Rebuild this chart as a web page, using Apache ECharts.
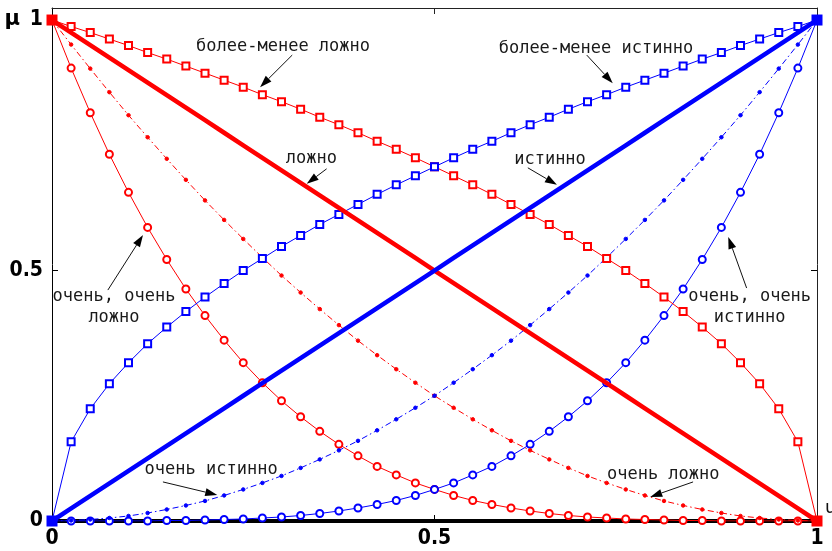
<!DOCTYPE html>
<html>
<head>
<meta charset="utf-8">
<script src="https://cdn.jsdelivr.net/npm/echarts@6/dist/echarts.min.js"></script>
<style>
  html, body { margin: 0; padding: 0; background: #fff; }
  #chart { width: 832px; height: 551px; }
</style>
</head>
<body>
<div id="chart"></div>
<script>
// Membership functions of the linguistic term "истинно" and its modifiers,
// sampled on u = 0 … 1 with step 0.025.
const u = [0, 0.025, 0.05, 0.075, 0.1, 0.125, 0.15, 0.175, 0.2, 0.225,
  0.25, 0.275, 0.3, 0.325, 0.35, 0.375, 0.4, 0.425, 0.45, 0.475,
  0.5, 0.525, 0.55, 0.575, 0.6, 0.625, 0.65, 0.675, 0.7, 0.725,
  0.75, 0.775, 0.8, 0.825, 0.85, 0.875, 0.9, 0.925, 0.95, 0.975, 1];

// истинно
const trueVals = [0, 0.025, 0.05, 0.075, 0.1, 0.125, 0.15, 0.175, 0.2, 0.225,
  0.25, 0.275, 0.3, 0.325, 0.35, 0.375, 0.4, 0.425, 0.45, 0.475,
  0.5, 0.525, 0.55, 0.575, 0.6, 0.625, 0.65, 0.675, 0.7, 0.725,
  0.75, 0.775, 0.8, 0.825, 0.85, 0.875, 0.9, 0.925, 0.95, 0.975, 1];
// ложно
const falseVals = [1, 0.975, 0.95, 0.925, 0.9, 0.875, 0.85, 0.825, 0.8, 0.775,
  0.75, 0.725, 0.7, 0.675, 0.65, 0.625, 0.6, 0.575, 0.55, 0.525,
  0.5, 0.475, 0.45, 0.425, 0.4, 0.375, 0.35, 0.325, 0.3, 0.275,
  0.25, 0.225, 0.2, 0.175, 0.15, 0.125, 0.1, 0.075, 0.05, 0.025, 0];
// более-менее истинно
const moreLessTrue = [0, 0.158, 0.224, 0.274, 0.316, 0.354, 0.387, 0.418, 0.447, 0.474,
  0.5, 0.524, 0.548, 0.570, 0.592, 0.612, 0.632, 0.652, 0.671, 0.689,
  0.707, 0.725, 0.742, 0.758, 0.775, 0.791, 0.806, 0.822, 0.837, 0.851,
  0.866, 0.880, 0.894, 0.908, 0.922, 0.935, 0.949, 0.962, 0.975, 0.987, 1];
// более-менее ложно
const moreLessFalse = [1, 0.987, 0.975, 0.962, 0.949, 0.935, 0.922, 0.908, 0.894, 0.880,
  0.866, 0.851, 0.837, 0.822, 0.806, 0.791, 0.775, 0.758, 0.742, 0.725,
  0.707, 0.689, 0.671, 0.652, 0.632, 0.612, 0.592, 0.570, 0.548, 0.524,
  0.5, 0.474, 0.447, 0.418, 0.387, 0.354, 0.316, 0.274, 0.224, 0.158, 0];
// очень истинно
const veryTrue = [0, 0.001, 0.003, 0.006, 0.010, 0.016, 0.023, 0.031, 0.040, 0.051,
  0.063, 0.076, 0.090, 0.106, 0.123, 0.141, 0.160, 0.181, 0.203, 0.226,
  0.250, 0.276, 0.303, 0.331, 0.360, 0.391, 0.423, 0.456, 0.490, 0.526,
  0.563, 0.601, 0.640, 0.681, 0.723, 0.766, 0.810, 0.856, 0.903, 0.951, 1];
// очень ложно
const veryFalse = [1, 0.951, 0.903, 0.856, 0.810, 0.766, 0.723, 0.681, 0.640, 0.601,
  0.563, 0.526, 0.490, 0.456, 0.423, 0.391, 0.360, 0.331, 0.303, 0.276,
  0.250, 0.226, 0.203, 0.181, 0.160, 0.141, 0.123, 0.106, 0.090, 0.076,
  0.063, 0.051, 0.040, 0.031, 0.023, 0.016, 0.010, 0.006, 0.003, 0.001, 0];
// очень, очень истинно
const veryVeryTrue = [0, 0, 0, 0, 0, 0, 0.001, 0.001, 0.002, 0.003,
  0.004, 0.006, 0.008, 0.011, 0.015, 0.020, 0.026, 0.033, 0.041, 0.051,
  0.063, 0.076, 0.092, 0.109, 0.130, 0.153, 0.179, 0.208, 0.240, 0.276,
  0.316, 0.361, 0.410, 0.463, 0.522, 0.586, 0.656, 0.732, 0.815, 0.904, 1];
// очень, очень ложно
const veryVeryFalse = [1, 0.904, 0.815, 0.732, 0.656, 0.586, 0.522, 0.463, 0.410, 0.361,
  0.316, 0.276, 0.240, 0.208, 0.179, 0.153, 0.130, 0.109, 0.092, 0.076,
  0.063, 0.051, 0.041, 0.033, 0.026, 0.020, 0.015, 0.011, 0.008, 0.006,
  0.004, 0.003, 0.002, 0.001, 0.001, 0, 0, 0, 0, 0, 0];

const axisLabels = [0, 0.5, 1];
const innerTicks = [0.5];

// Callout captions: text, text anchor and arrow (tail → head), in data units
const callouts = [
  { text: 'более-менее ложно', at: [0.302, 0.946], from: [0.314, 0.930], to: [0.272, 0.866] },
  { text: 'более-менее истинно', at: [0.711, 0.944], from: [0.699, 0.930], to: [0.733, 0.874] },
  { text: 'ложно', at: [0.339, 0.723], from: [0.359, 0.703], to: [0.333, 0.673] },
  { text: 'истинно', at: [0.651, 0.721], from: [0.622, 0.705], to: [0.660, 0.671] },
  { text: 'очень истинно', at: [0.208, 0.102], from: [0.145, 0.078], to: [0.216, 0.052] },
  { text: 'очень ложно', at: [0.799, 0.092], from: [0.838, 0.078], to: [0.782, 0.048] },
  { text: 'очень, очень\nложно', at: [0.081, 0.427], from: [0.073, 0.461], to: [0.119, 0.571] },
  { text: 'очень, очень\nистинно', at: [0.912, 0.427], from: [0.908, 0.465], to: [0.884, 0.567] }
];

const RED = '#ff0000';
const BLUE = '#0000ff';
const tickFont = "'Liberation Sans Narrow', 'DejaVu Sans Condensed', sans-serif";
const noteFont = "'DejaVu Sans Mono', monospace";

function pairs(ys) { return u.map((x, i) => [x, ys[i]]); }

function thinSeries(name, ys, color, symbol, size, dashed) {
  return {
    name, type: 'line', data: pairs(ys),
    xAxisIndex: 0, yAxisIndex: 0,
    symbol, symbolSize: size, showAllSymbol: true,
    lineStyle: { color, width: 1, type: dashed ? [6, 3, 1.5, 3] : 'solid' },
    itemStyle: { color, borderColor: color, borderWidth: 1 },
    emphasis: { disabled: true }, animation: false, z: 3
  };
}

function thickSeries(name, ys, color) {
  const last = ys.length - 1;
  return {
    name, type: 'line', data: pairs(ys),
    xAxisIndex: 0, yAxisIndex: 0,
    symbol: 'rect', showAllSymbol: true,
    symbolSize: (v, p) => (p.dataIndex === 0 || p.dataIndex === last) ? 11 : 0,
    lineStyle: { color, width: 4.5 },
    itemStyle: { color },
    emphasis: { disabled: true }, animation: false, z: 4
  };
}

const chart = echarts.init(document.getElementById('chart'), null, { renderer: 'canvas' });

const boxLine = { show: true, onZero: false, lineStyle: { color: '#222', width: 1 } };

chart.setOption({
  animation: false,
  backgroundColor: '#ffffff',
  grid: { left: 52, right: 15, top: 8, bottom: 30, containLabel: false, outerBoundsMode: 'none' },
  xAxis: [
    {
      type: 'value', position: 'bottom', min: 0, max: 1, interval: 0.5,
      name: 'u', nameLocation: 'end', nameGap: 8,
      nameTextStyle: { color: '#111', fontSize: 18, fontFamily: 'DejaVu Sans', verticalAlign: 'bottom', padding: [0, 0, 4, 0] },
      axisLine: { show: true, onZero: false, lineStyle: { color: '#000', width: 4 } },
      axisTick: { show: true, inside: true, length: 6, customValues: innerTicks, lineStyle: { color: '#000', width: 1 } },
      axisLabel: { show: true, customValues: axisLabels, margin: 7, color: '#000', fontSize: 21, fontWeight: 'bold', fontFamily: tickFont },
      splitLine: { show: false }
    },
    {
      type: 'value', position: 'top', min: 0, max: 1, interval: 0.5,
      axisLine: boxLine,
      axisTick: { show: true, inside: true, length: 6, customValues: innerTicks, lineStyle: { color: '#222' } },
      axisLabel: { show: false }, splitLine: { show: false }
    }
  ],
  yAxis: [
    {
      type: 'value', position: 'left', min: 0, max: 1.024, interval: 0.5,
      name: 'μ', nameLocation: 'end', nameGap: -12,
      nameTextStyle: { color: '#000', fontSize: 21, fontWeight: 'bold', fontFamily: 'DejaVu Sans', align: 'right', verticalAlign: 'middle', padding: [0, 32, 0, 0] },
      axisLine: { show: true, onZero: false, lineStyle: { color: '#000', width: 1 } },
      axisTick: { show: true, inside: true, length: 6, customValues: innerTicks, lineStyle: { color: '#000' } },
      axisLabel: { show: true, customValues: axisLabels, margin: 9, color: '#000', fontSize: 21, fontWeight: 'bold', fontFamily: tickFont },
      splitLine: { show: false }
    },
    {
      type: 'value', position: 'right', min: 0, max: 1.024, interval: 0.5,
      axisLine: boxLine,
      axisTick: { show: true, inside: true, length: 6, customValues: innerTicks, lineStyle: { color: '#000' } },
      axisLabel: { show: false }, splitLine: { show: false }
    }
  ],
  series: [
    thinSeries('очень, очень ложно', veryVeryFalse, RED, 'emptyCircle', 7, false),
    thinSeries('очень, очень истинно', veryVeryTrue, BLUE, 'emptyCircle', 7, false),
    thinSeries('очень ложно', veryFalse, RED, 'circle', 3.5, true),
    thinSeries('очень истинно', veryTrue, BLUE, 'circle', 3.5, true),
    thinSeries('более-менее ложно', moreLessFalse, RED, 'emptyRect', 7, false),
    thinSeries('более-менее истинно', moreLessTrue, BLUE, 'emptyRect', 7, false),
    thickSeries('ложно', falseVals, RED),
    thickSeries('истинно', trueVals, BLUE)
  ]
});

// Captions with arrows, placed from data coordinates
function drawCallouts() {
  const els = [];
  callouts.forEach(c => {
    const p = chart.convertToPixel({ gridIndex: 0 }, c.at);
    const a = chart.convertToPixel({ gridIndex: 0 }, c.from);
    const b = chart.convertToPixel({ gridIndex: 0 }, c.to);
    els.push({
      type: 'text', x: p[0], y: p[1], z: 20, silent: true,
      style: {
        text: c.text, fill: '#1a1a1a', font: '17px ' + noteFont,
        align: 'center', verticalAlign: 'middle', lineHeight: 21
      }
    });
    const dx = b[0] - a[0], dy = b[1] - a[1];
    const len = Math.sqrt(dx * dx + dy * dy);
    const ux = dx / len, uy = dy / len;
    const headLen = 12, headHalf = 4;
    const bx = b[0] - ux * headLen, by = b[1] - uy * headLen;
    els.push({
      type: 'line', z: 20, silent: true,
      shape: { x1: a[0], y1: a[1], x2: bx, y2: by },
      style: { stroke: '#111', lineWidth: 1 }
    });
    els.push({
      type: 'polygon', z: 20, silent: true,
      shape: { points: [[b[0], b[1]], [bx - uy * headHalf, by + ux * headHalf], [bx + uy * headHalf, by - ux * headHalf]] },
      style: { fill: '#000' }
    });
  });
  chart.setOption({ graphic: els });
}
drawCallouts();
</script>
</body>
</html>
